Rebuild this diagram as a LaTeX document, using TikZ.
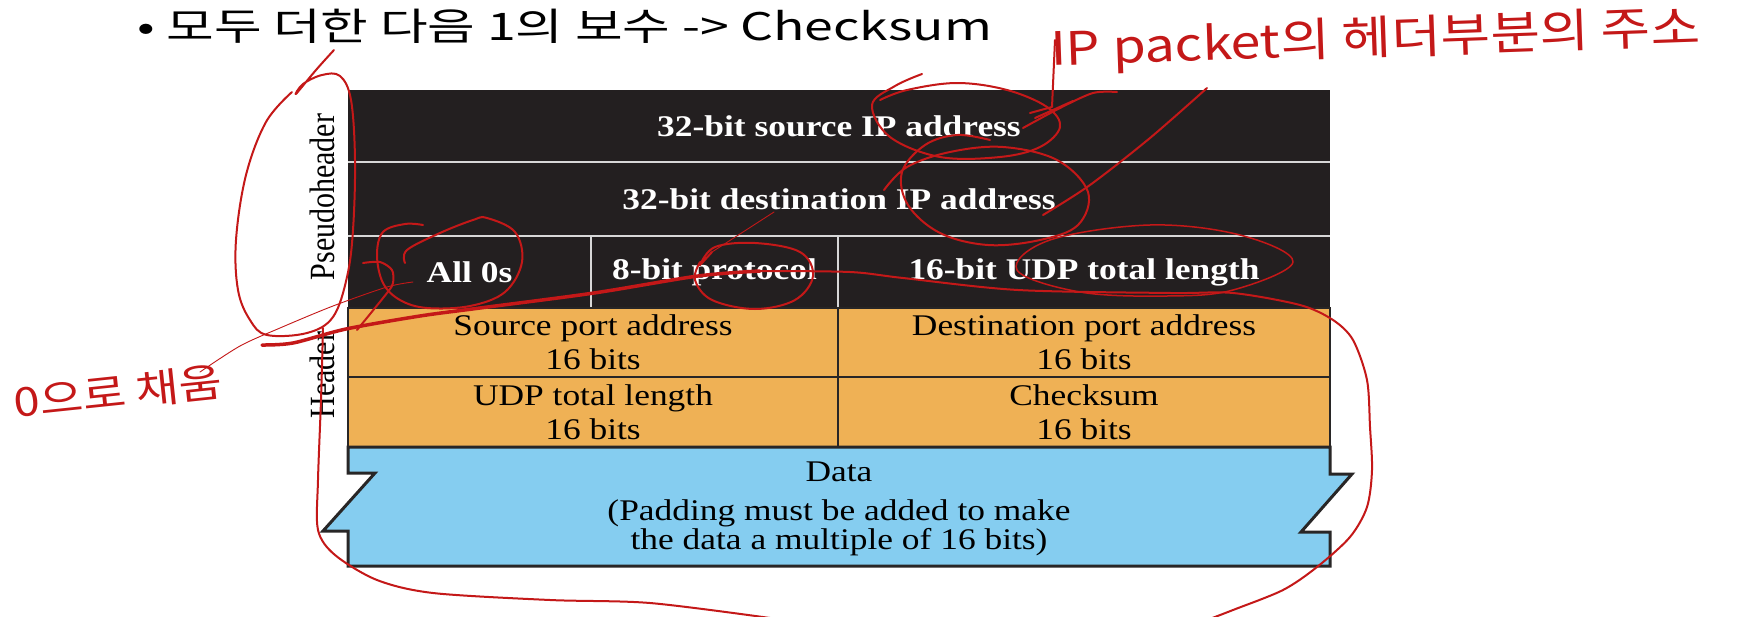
\documentclass[tikz,border=0pt]{standalone}
\usepackage{fontspec}
\usepackage{graphicx}
\setmainfont{Liberation Serif}[FakeStretch=1.18]
\newfontfamily\sidefont{Liberation Serif}
\newfontfamily\titlefont{Noto Sans CJK KR}
\definecolor{cellblack}{RGB}{35,31,32}
\definecolor{lineblack}{RGB}{40,38,38}
\definecolor{sepgray}{RGB}{215,215,215}
\definecolor{hdrorange}{RGB}{239,177,85}
\definecolor{datablue}{RGB}{133,205,240}
\definecolor{inkred}{RGB}{196,24,24}
\newcommand\cellfont{\fontsize{30}{34}\selectfont}

\begin{document}
\begin{tikzpicture}[x=1pt, y=-1pt,
  every node/.style={inner sep=0pt},
  pseudo/.style={fill=cellblack, text=white, font=\cellfont\bfseries},
  hdr/.style={fill=hdrorange, draw=lineblack, line width=2pt, font=\cellfont,
    align=center, minimum height=69.5pt},
  sepline/.style={draw=sepgray, line width=2.5pt},
  sidelabel/.style={font=\sidefont\fontsize{30}{34}\selectfont},
  ink/.style={draw=inkred, line width=2pt, line cap=round, line join=round},
  thickink/.style={ink, line width=3.5pt},
  thinink/.style={ink, line width=0.9pt},
  note/.style={text=inkred, font=\titlefont}]
\useasboundingbox[fill=white] (0,0) rectangle (1744,616);

% title
\node[anchor=base west] (title) at (137,40)
  {\resizebox{855pt}{\height}{\titlefont\fontsize{38}{40}\selectfont •\ 모두 더한 다음 1의 보수 -> Checksum}};

% pseudoheader
\node[pseudo, minimum width=982pt, minimum height=72pt] (srcip) at (839,126) {32-bit source IP address};
\node[pseudo, minimum width=982pt, minimum height=74pt] (dstip) at (839,199) {32-bit destination IP address};
\node[pseudo, minimum width=243pt, minimum height=72pt] (zeros) at (469.5,272) {All 0s};
\node[pseudo, minimum width=247pt, minimum height=72pt] (proto) at (714.5,272) {8-bit protocol};
\node[pseudo, minimum width=492pt, minimum height=72pt] (udplen) at (1084,272) {16-bit UDP total length};
\draw[sepline] (srcip.south west) -- (srcip.south east);
\draw[sepline] (dstip.south west) -- (dstip.south east);
\draw[sepline, line width=2pt] (zeros.north east) -- (zeros.south east);
\draw[sepline, line width=2pt] (proto.north east) -- (proto.south east);

% header
\node[hdr, minimum width=490pt, minimum height=69pt] (srcport) at (593,342.5) {Source port address\\16 bits};
\node[hdr, minimum width=492pt, minimum height=69pt] (dstport) at (1084,342.5) {Destination port address\\16 bits};
\node[hdr, minimum width=490pt, minimum height=70pt] (udptot) at (593,412) {UDP total length\\16 bits};
\node[hdr, minimum width=492pt, minimum height=70pt] (cksum) at (1084,412) {Checksum\\16 bits};

% data
\filldraw[fill=datablue, draw=lineblack, line width=3pt, line join=miter]
  (348,447) -- (1330,447) -- (1330,474) -- (1352,474) -- (1301,532) -- (1330,532)
  -- (1330,566) -- (348,566) -- (348,531) -- (323,531) -- (375,473) -- (348,473) -- cycle;
\node[font=\fontsize{30}{27.5}\selectfont, align=center] (data) at (839,509)
  {Data\\[11.5pt](Padding must be added to make\\the data a multiple of 16 bits)};

% side labels
\node[sidelabel, xscale=1.18, rotate=90] (pseudolbl) at (322,197) {Pseudoheader};
\node[sidelabel, xscale=1.18, rotate=90] (hdrlbl) at (322,375) {Header};

% red notes
\node[note, anchor=base west, rotate=2] (ipnote) at (1051,66)
  {\resizebox{650pt}{\height}{\fontsize{46}{48}\selectfont IP packet의 헤더부분의 주소}};
\node[note, anchor=base west, rotate=6] (zeronote) at (15,418)
  {\resizebox{210pt}{\height}{\fontsize{40}{42}\selectfont 0으로 채움}};

% red strokes
\draw[ink] plot[smooth, tension=0.6] coordinates {(334,50) (316,70) (296,94) (303,84) (322,75) (340,76) (351,100) (355,160) (353,230) (347,277) (333,317) (307,333) (267,335) (250,320) (238,290) (236,240) (246,175) (266,122) (292,92)};
\draw[ink] plot[smooth, tension=0.6] coordinates {(922,74) (895,86) (872,105) (890,137) (940,157) (1000,157) (1040,147) (1060,127) (1047,107) (1007,90) (957,83) (907,90) (880,100)};
\draw[ink] plot[smooth, tension=0.6] coordinates {(884,190) (907,167) (950,152) (1003,147) (1057,160) (1088,192) (1078,225) (1040,240) (988,245) (940,233) (908,205) (902,172) (925,145) (957,135) (990,140)};
\draw[ink] plot[smooth] coordinates {(1207,88) (1150,138) (1090,185) (1043,215)};
\draw[ink] (1055,40) -- (1052,107) -- (1030,113);
\draw[ink] plot[smooth] coordinates {(1117,92) (1093,93) (1060,108) (1023,128)};
\draw[ink] (1073,101) -- (1035,118);
\draw[ink] plot[smooth, tension=0.6] coordinates {(405,263) (407,250) (440,233) (473,220) (487,218) (515,232) (522,262) (505,292) (470,306) (427,308) (400,300) (383,283) (377,255) (383,232) (405,224) (423,225)};
\draw[ink] plot[smooth] coordinates {(363,263) (380,262) (392,270) (393,283) (387,293) (357,330)};
\draw[thinink] plot[smooth] coordinates {(413,282) (387,287) (333,306) (280,328) (240,346) (200,372)};
\draw[thinink] (774,212) -- (712,252);
\draw[ink] plot[smooth, tension=0.6] coordinates {(712,252) (700,265) (715,247) (755,243) (800,252) (813,276) (795,300) (755,309) (712,300) (695,280) (700,262)};
\draw[ink, line width=1.5pt] plot[smooth cycle, tension=0.6] coordinates {(1150,225) (1240,235) (1293,262) (1233,290) (1167,296) (1080,292) (1017,270) (1050,240)};
\draw[thickink] plot[smooth] coordinates {(262,345) (293,343) (346,329) (420,316) (480,308) (594,293) (698,276) (760,271)};
\draw[ink] plot[smooth] coordinates {(760,271) (850,272) (903,278) (1018,290) (1171,293) (1233,293) (1300,305) (1333,320) (1353,340) (1367,380) (1370,427) (1372,470) (1367,507) (1350,537) (1317,567) (1283,590) (1233,610) (1207,620)};
\draw[ink] plot[smooth] coordinates {(323,328) (321,400) (318,480) (318,530) (335,555) (377,580) (433,593) (550,600) (650,603) (770,618)};
\end{tikzpicture}
\end{document}
